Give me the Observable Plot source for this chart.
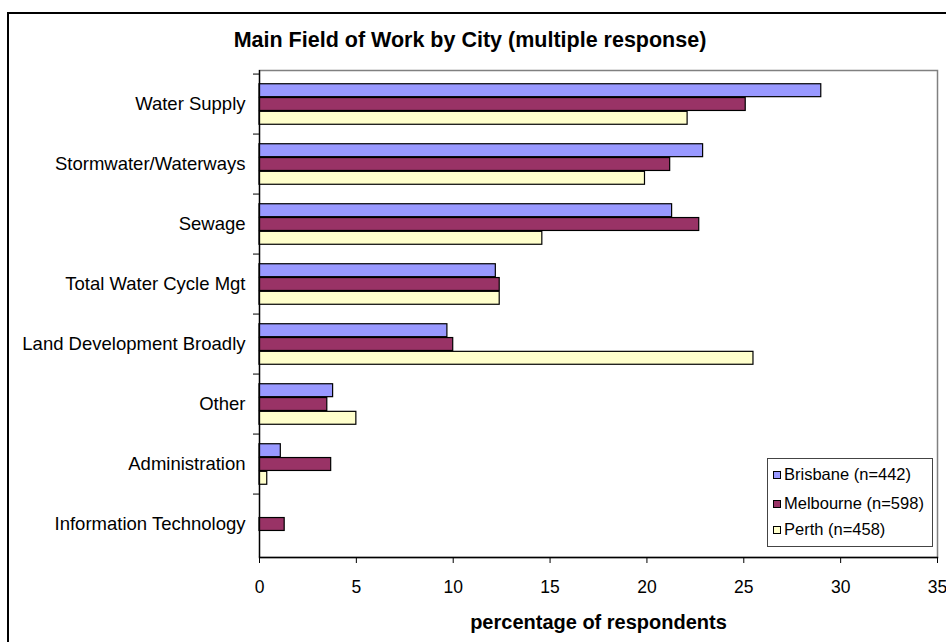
<!DOCTYPE html>
<html>
<head>
<meta charset="utf-8">
<script src="https://cdn.jsdelivr.net/npm/d3@7"></script>
<script src="https://cdn.jsdelivr.net/npm/@observablehq/plot@0.6"></script>
<style>
  html, body { margin: 0; padding: 0; background: #fff; }
  #wrap { position: relative; width: 946px; height: 642px; overflow: hidden; font-family: "Liberation Sans", Arial, sans-serif; }
  #border { position: absolute; left: 7px; top: 12px; width: 960px; height: 660px; border: 2px solid #000; box-sizing: border-box; }
  #title { position: absolute; left: 0; width: 940px; top: 30px; text-align: center; font-weight: bold; font-size: 21.5px; line-height: 21.5px; color: #000; white-space: nowrap; }
  #chart { position: absolute; left: 0; top: 0; }
  #legend { position: absolute; left: 767px; top: 458px; width: 166px; height: 89px; border: 1px solid #444; box-sizing: border-box; background: #fff; font-size: 16.5px; }
  .item { position: absolute; left: 5px; height: 18px; line-height: 18px; white-space: nowrap; }
  .sw { display: inline-block; width: 6px; height: 6px; border: 1px solid #000; margin-right: 3px; vertical-align: 1px; }
  svg [aria-label="x-axis label"] text { font-weight: bold; font-size: 20px; }
</style>
</head>
<body>
<div id="wrap">
  <div id="border"></div>
  <div id="chart"></div>
  <div id="title">Main Field of Work by City (multiple response)</div>
  <div id="legend"></div>
</div>
<script>
const categories = ["Water Supply", "Stormwater/Waterways", "Sewage", "Total Water Cycle Mgt", "Land Development Broadly", "Other", "Administration", "Information Technology"];
const cities = ["Brisbane (n=442)", "Melbourne (n=598)", "Perth (n=458)"];
const brisbane = [29.0, 22.9, 21.3, 12.2, 9.7, 3.8, 1.1, 0];
const melbourne = [25.1, 21.2, 22.7, 12.4, 10.0, 3.5, 3.7, 1.3];
const perth = [22.1, 19.9, 14.6, 12.4, 25.5, 5.0, 0.4, 0];
const cityColors = ["#9999FF", "#993366", "#FFFFCC"];
const xTicks = [0, 5, 10, 15, 20, 25, 30, 35];

const series = [brisbane, melbourne, perth];
const data = [];
series.forEach((vals, i) => vals.forEach((v, j) => data.push({category: categories[j], city: cities[i], value: v})));

const W = 946, H = 642;
const mTop = 70, mBottom = 85, mLeft = 259, mRight = 9;
const bw = (H - mTop - mBottom) / categories.length;
const barH = 13.8;
const inset = (bw - barH) / 2;

const marks = [Plot.frame({stroke: "#808080", strokeWidth: 1.5})];
cities.forEach((c, i) => {
  marks.push(Plot.barX(data.filter(d => d.city === c), {
    x: "value", y: "category", fill: "city", stroke: "#000", strokeWidth: 1.2,
    insetTop: inset, insetBottom: inset, dy: (i - 1) * barH
  }));
});
marks.push(
  Plot.ruleX([0], {stroke: "#000", strokeWidth: 1.3}),
  Plot.frame({anchor: "bottom", stroke: "#000", strokeWidth: 1.3}),
  Plot.axisY({tickSize: 0, tickPadding: 14, fontSize: 18.5, label: null}),
  Plot.axisY({tickSize: 6, tickFormat: () => "", dy: -bw / 2, label: null}),
  Plot.axisX({ticks: xTicks, tickSize: 6, tickPadding: 17, fontSize: 17.5,
    label: "percentage of respondents", labelAnchor: "center", labelOffset: 71, labelArrow: "none"})
);

const chart = Plot.plot({
  width: W, height: H,
  marginTop: mTop, marginBottom: mBottom, marginLeft: mLeft, marginRight: mRight,
  style: {fontFamily: "Liberation Sans, Arial, sans-serif", fontSize: "17px", color: "#000", background: "transparent", overflow: "visible"},
  x: {domain: [0, 35]},
  y: {domain: categories, padding: 0},
  color: {domain: cities, range: cityColors},
  marks
});
document.getElementById("chart").appendChild(chart);

const legend = document.getElementById("legend");
const rowCenters = [15, 44, 70];
cities.forEach((c, i) => {
  const it = document.createElement("div");
  it.className = "item";
  it.style.top = (rowCenters[i] - 9) + "px";
  const sw = document.createElement("span");
  sw.className = "sw";
  sw.style.background = cityColors[i];
  it.appendChild(sw);
  it.appendChild(document.createTextNode(c));
  legend.appendChild(it);
});
</script>
</body>
</html>
